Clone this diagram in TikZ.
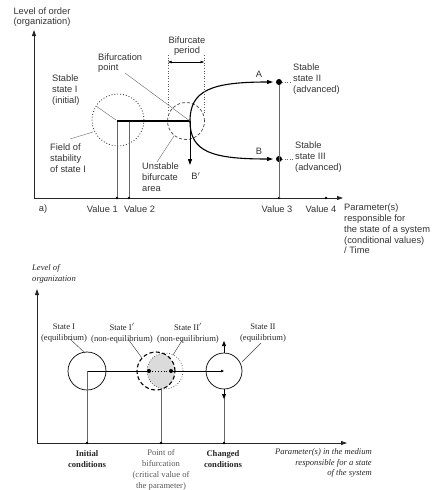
\documentclass[tikz,border=0pt]{standalone}
\usepackage{fontspec}
\setmainfont{Liberation Serif}
\newfontfamily\labelsans{Liberation Sans}
\usetikzlibrary{arrows.meta}

\begin{document}
\begin{tikzpicture}[x=1pt,y=-1pt,
  axis/.style={line width=0.8pt,draw=black!85,-{Triangle[length=6pt,width=4pt]}},
  guide/.style={line width=0.45pt,draw=black!60},
  leader/.style={line width=0.45pt,draw=black!55},
  heavy/.style={line width=1.5pt,draw=black},
  branch/.style={line width=1.1pt,draw=black,-{Triangle[length=6pt,width=4pt]}},
  tick/.style={fill=black,circle,inner sep=0pt,minimum size=2.6pt},
  toplbl/.style={font=\labelsans\fontsize{9.3}{10.8}\selectfont,text=black!80,inner sep=0pt},
  botlbl/.style={font=\fontsize{8.6}{10.8}\selectfont,text=black!85,inner sep=0pt},
  ]
\useasboundingbox (0,0) rectangle (433,490);

% ---------------- a) bifurcation of a state ----------------
\coordinate (O1) at (34,198);
\coordinate (Ytop1) at (34,30);
\coordinate (Xend1) at (343,198);
\draw[axis] (O1) -- (Ytop1);
\draw[axis] (O1) -- (Xend1);

\coordinate (S1) at (117,121);
\coordinate (S1b) at (129,121);
\coordinate (BP) at (190,121);
\coordinate (v1) at (117,198);
\coordinate (v2) at (129,198);
\coordinate (v3) at (279,198);
\coordinate (v4) at (326,198);
\coordinate (Atip) at (273,82);
\coordinate (Btip) at (273,159);
\coordinate (Bptip) at (190,165);

% field of stability and unstable area
\draw[black!75,line width=0.9pt,dotted] (118,120) circle (26pt);
\draw[black!75,line width=0.7pt,dash pattern=on 3pt off 2pt] (186,121) circle (18.5pt);

% parameter value guides
\draw[guide] (S1) -- (v1);
\draw[guide] (S1b) -- (v2);
\node[tick] (t1) at (v1) {};
\node[tick] (t2) at (v2) {};
\node[tick] (t4) at (v4) {};
\node[tick] (t3) at (v3) {};

% development path and branches
\draw[heavy] (S1) -- (BP);
\draw[branch] (BP) .. controls (190,90) and (212,82) .. (Atip);
\draw[branch] (BP) .. controls (190,152) and (212,159) .. (Btip);
\draw[line width=1pt,-{Triangle[length=6pt,width=4pt]}] (BP) -- (Bptip);

\node[fill=black,circle,inner sep=0pt,minimum size=6pt] (SA) at (279,82) {};
\node[fill=black,circle,inner sep=0pt,minimum size=6pt] (SB) at (279,159) {};
\draw[guide] (SA) -- (v3);

% bifurcate period
\coordinate (p1t) at (168,55);
\coordinate (p1b) at (168,110);
\coordinate (p2t) at (204,55);
\coordinate (p2b) at (204,113);
\draw[black!65,line width=0.6pt,dotted] (p1t) -- (p1b);
\draw[black!65,line width=0.6pt,dotted] (p2t) -- (p2b);
\draw[line width=0.5pt,{Triangle[length=3.5pt,width=2.5pt]}-{Triangle[length=3.5pt,width=2.5pt]}] (168,62) -- (204,62);

% labels
\node[toplbl,align=center] (ylab1) at (42,17) {Level of order\\(organization)};
\node[toplbl,align=center] (period) at (187,46) {Bifurcate\\period};
\node[toplbl,align=left,anchor=west] (bplab) at (98,63) {Bifurcation\\point};
\node[toplbl,align=left,anchor=west] (s1lab) at (52,90) {Stable\\state I\\(initial)};
\node[toplbl,align=left,anchor=west] (fieldlab) at (50,158) {Field of\\stability\\of state I};
\node[toplbl,align=left,anchor=west] (unstlab) at (142,177) {Unstable\\bifurcate\\area};
\node[toplbl] (Alab) at (259,74) {A};
\node[toplbl] (Blab) at (259,151) {B};
\node[toplbl] (Bplab) at (196,176) {B$'$};
\node[toplbl,align=left,anchor=west] (s2lab) at (293,79) {Stable\\state II\\(advanced)};
\node[toplbl,align=left,anchor=west] (s3lab) at (295,157) {Stable\\state III\\(advanced)};
\node[toplbl] (alab) at (43,209) {a)};
\node[toplbl,anchor=east] (val1) at (118,209) {Value 1};
\node[toplbl,anchor=west] (val2) at (124,209) {Value 2};
\node[toplbl] (val3) at (277,209) {Value 3};
\node[toplbl] (val4) at (321,209) {Value 4};
\node[toplbl,align=left,anchor=west] (xlab1) at (344,229)
  {Parameter(s)\\responsible for\\the state of a system\\(conditional values)\\/ Time};

\draw[leader] (125,73) -- (BP);
\draw[leader] (96,106) -- (116,120);
\draw[leader] (70,139) -- (93,132);
\draw[leader] (157,162) -- (174,136);
\draw[black!60,line width=0.5pt,dotted] (SA) -- (291,82);
\draw[black!60,line width=0.5pt,dotted] (SB) -- (293,159);

% ---------------- equilibrium states along a parameter ----------------
\coordinate (O2) at (37,443);
\coordinate (Ytop2) at (37,289);
\coordinate (Xend2) at (347,443);
\draw[axis] (O2) -- (Ytop2);
\draw[axis] (O2) -- (Xend2);

\coordinate (C1) at (87,371);
\coordinate (C2) at (156,371);
\coordinate (C3) at (165,371);
\coordinate (C4) at (224,371);
\coordinate (m1) at (149,371);
\coordinate (m2) at (171,371);

% non-equilibrium overlap
\begin{scope}
  \clip (C2) circle (19pt);
  \fill[black!14] (C3) circle (18pt);
\end{scope}
\draw[line width=0.7pt] (C1) circle (19pt);
\draw[line width=0.6pt,dotted] (C3) circle (18pt);
\draw[line width=1.1pt,dash pattern=on 4pt off 2.5pt] (C2) circle (19pt);
\draw[line width=0.7pt] (C4) circle (18pt);

% path through the states
\draw[line width=0.6pt] (C1) -- (m1);
\draw[line width=0.9pt,dotted] (m1) -- (m2);
\draw[line width=0.6pt,-{Triangle[length=3pt,width=2.5pt]}] (m2) -- (C4);
\node[fill=black,circle,inner sep=0pt,minimum size=4pt] (d1) at (m1) {};
\node[fill=black,circle,inner sep=0pt,minimum size=4pt] (d2) at (m2) {};

% parameter values
\coordinate (w1) at (87,443);
\coordinate (w2) at (161,443);
\coordinate (w3) at (224,443);
\coordinate (c3b) at (161,389);
\coordinate (c4t) at (224,353);
\coordinate (c4b) at (224,389);
\coordinate (upTip) at (224,341);
\coordinate (dnTip) at (224,399);
\draw[guide] (C1) -- (w1);
\draw[guide] (c3b) -- (w2);
\draw[guide] (c4b) -- (w3);
\draw[line width=0.7pt,-{Triangle[length=5pt,width=4pt]}] (c4t) -- (upTip);
\draw[line width=0.7pt,-{Triangle[length=5pt,width=4pt]}] (c4b) -- (dnTip);
\node[tick] (u1) at (w1) {};
\node[tick] (u2) at (w2) {};
\node[tick] (u3) at (w3) {};

% labels
\node[botlbl,align=left,anchor=west,font=\itshape\fontsize{8.6}{10.5}\selectfont] (ylab2) at (32,274) {Level of\\organization};
\node[botlbl,align=center] (st1) at (64,333) {State I\\(equilibrium)};
\node[botlbl,align=center] (st1p) at (122,333) {State I$'$\\(non-equilibrium)};
\node[botlbl,align=center] (st2p) at (188,333) {State II$'$\\(non-equilibrium)};
\node[botlbl,align=center] (st2) at (263,333) {State II\\(equilibrium)};
\node[botlbl,align=center,font=\bfseries\fontsize{8.6}{10.8}\selectfont] (init) at (87,459) {Initial\\conditions};
\node[botlbl,align=center,text=black!65] (bifpt) at (161,470) {Point of\\bifurcation\\(critical value of\\the parameter)};
\node[botlbl,align=center,font=\bfseries\fontsize{8.6}{10.8}\selectfont] (chg) at (223,459) {Changed\\conditions};
\node[botlbl,align=right,anchor=east,font=\itshape\fontsize{8.6}{10.8}\selectfont] (xlab2) at (372,463)
  {Parameter(s) in the medium\\responsible for a state\\of the system};

\draw[leader,draw=black!75] (70,339) -- (85,353);
\draw[leader,draw=black!75] (128,339) -- (142,358);
\draw[leader,draw=black!75] (183,339) -- (173,355);
\draw[leader,draw=black!75] (261,343) -- (242,362);
\end{tikzpicture}
\end{document}
